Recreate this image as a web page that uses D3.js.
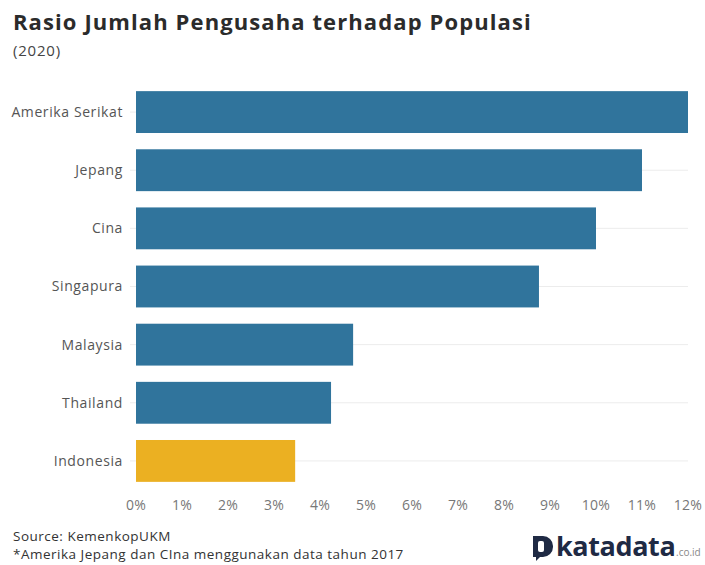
<!DOCTYPE html>
<html>
<head>
<meta charset="utf-8">
<script src="https://cdn.jsdelivr.net/npm/d3@7/dist/d3.min.js"></script>
<style>
  body { margin: 0; background: #fff; }
  text { font-family: "Open Sans", "Noto Sans", sans-serif; }
</style>
</head>
<body>
<div id="canvas"></div>
<script>
"use strict";

/* Data */
let countries = ["Amerika Serikat", "Jepang", "Cina", "Singapura", "Malaysia", "Thailand", "Indonesia"];
let ratios = [12.0, 11.0, 10.0, 8.76, 4.72, 4.24, 3.46];
let xTicks = [0, 1, 2, 3, 4, 5, 6, 7, 8, 9, 10, 11, 12];
let highlight = "Indonesia";

/* Drawing config */
let svgWidth = 705;
let svgHeight = 565;
let plotLeft = 136;
let plotRight = 688;
let plotTop = 83;
let plotBottom = 490;

let svg = d3.select("#canvas")
  .append("svg")
  .attr("width", svgWidth)
  .attr("height", svgHeight);

let data = countries.map((c, i) => ({ name: c, value: ratios[i] }));

let xScale = d3.scaleLinear()
  .domain([0, 12])
  .range([plotLeft, plotRight]);

let yScale = d3.scaleBand()
  .domain(countries)
  .range([plotTop, plotBottom])
  .paddingInner(0.28)
  .paddingOuter(0.14);

/* Title */
svg.append("text")
  .attr("x", 13)
  .attr("y", 30)
  .attr("font-size", "22px")
  .attr("font-weight", "bold")
  .attr("letter-spacing", "1.1px")
  .attr("fill", "#2b2b2b")
  .text("Rasio Jumlah Pengusaha terhadap Populasi");

svg.append("text")
  .attr("x", 13)
  .attr("y", 56)
  .attr("font-size", "15px")
  .attr("letter-spacing", "0.8px")
  .attr("fill", "#444")
  .text("(2020)");

/* Gridlines at category centres */
svg.selectAll("line.grid")
  .data(countries)
  .enter()
  .append("line")
  .attr("class", "grid")
  .attr("x1", plotLeft - 6)
  .attr("x2", plotRight)
  .attr("y1", d => yScale(d) + yScale.bandwidth() / 2)
  .attr("y2", d => yScale(d) + yScale.bandwidth() / 2)
  .attr("stroke", "#ececec")
  .attr("stroke-width", 1);

/* Bars */
svg.selectAll("rect.bar")
  .data(data)
  .enter()
  .append("rect")
  .attr("class", "bar")
  .attr("x", xScale(0))
  .attr("y", d => yScale(d.name))
  .attr("width", d => xScale(d.value) - xScale(0))
  .attr("height", yScale.bandwidth())
  .attr("fill", d => d.name === highlight ? "#ebb022" : "#30749c");

/* Category labels */
svg.selectAll("text.cat")
  .data(countries)
  .enter()
  .append("text")
  .attr("class", "cat")
  .attr("x", plotLeft - 13)
  .attr("y", d => yScale(d) + yScale.bandwidth() / 2)
  .attr("dy", "0.35em")
  .attr("text-anchor", "end")
  .attr("font-size", "14px")
  .attr("letter-spacing", "0.6px")
  .attr("fill", "#555")
  .text(d => d);

/* X axis tick labels */
svg.selectAll("text.tick")
  .data(xTicks)
  .enter()
  .append("text")
  .attr("class", "tick")
  .attr("x", d => xScale(d))
  .attr("y", 510)
  .attr("text-anchor", "middle")
  .attr("font-size", "14px")
  .attr("letter-spacing", "0.3px")
  .attr("fill", "#777")
  .text(d => d + "%");

/* Footer */
svg.append("text")
  .attr("x", 13)
  .attr("y", 541)
  .attr("font-size", "13.5px")
  .attr("letter-spacing", "0.5px")
  .attr("fill", "#333")
  .text("Source: KemenkopUKM");

svg.append("text")
  .attr("x", 13)
  .attr("y", 559)
  .attr("font-size", "13.5px")
  .attr("letter-spacing", "0.5px")
  .attr("fill", "#333")
  .text("*Amerika Jepang dan CIna menggunakan data tahun 2017");

/* Logo */
let logo = svg.append("g").attr("transform", "translate(533, 536)");
logo.append("path")
  .attr("d", "M0,0 H10 A10,10 0 0 1 20,10 V11 A10,10 0 0 1 10,21 H7 L3,25 V21 H0 Z")
  .attr("fill", "#1f2a44");
logo.append("rect")
  .attr("x", 5)
  .attr("y", 5)
  .attr("width", 6)
  .attr("height", 11)
  .attr("rx", 2)
  .attr("fill", "#fff");
logo.append("text")
  .attr("x", 23)
  .attr("y", 20)
  .attr("font-size", "27px")
  .attr("font-weight", "bold")
  .attr("letter-spacing", "-0.4px")
  .attr("fill", "#1f2a44")
  .text("katadata");
logo.append("text")
  .attr("x", 143)
  .attr("y", 20)
  .attr("font-size", "10px")
  .attr("fill", "#888")
  .text(".co.id");
</script>
</body>
</html>
